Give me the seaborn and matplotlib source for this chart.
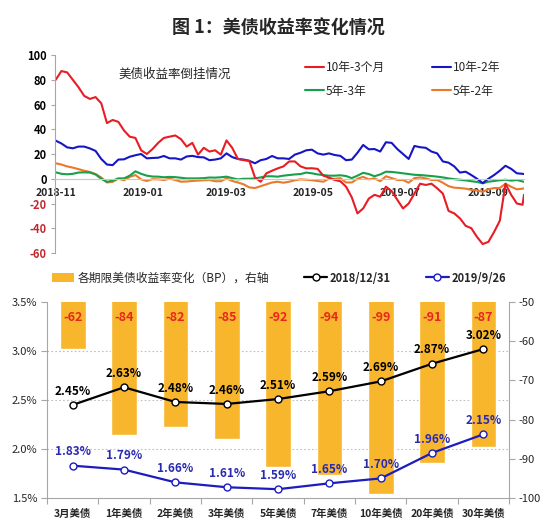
import numpy as np
import pandas as pd
import matplotlib
matplotlib.use("Agg")
import matplotlib.pyplot as plt
import matplotlib.dates as mdates
from matplotlib.ticker import FixedLocator
from matplotlib.lines import Line2D
from matplotlib.patches import Patch
import seaborn as sns

# ---------------- data: top chart (spreads, bp) ----------------
start_date = "2018-11-01"
end_date = "2019-09-26"
series_names = ["10年-3个月", "10年-2年", "5年-3年", "5年-2年"]

spread_10y3m = [80, 87, 86, 80, 74, 67, 64.5, 66, 61, 45,
                47.5, 46, 39, 34, 33, 23, 20, 24, 29, 33,
                34, 35, 32, 26, 29, 19.5, 25, 22, 23, 19.5,
                31, 25, 16, 15, 14.5, 1, -2.4, 4.4, 6.5, 8.4,
                10, 14, 14, 10, 8.4, 8.5, 8, 2.5, 1, -1,
                -2, -6.4, -15, -28, -24, -16, -13, -14.5, -6.4, -10,
                -17, -24, -20, -12, -4, -5, -4, -7.7, -12, -26,
                -28, -32, -38, -40, -47, -52.8, -51, -43, -34, -4,
                -13, -20, -21, -13]
spread_10y2y = [30.8, 28.5, 25.4, 24.6, 26, 26, 24.5, 22.5, 16, 11.5,
                11, 15.5, 15.7, 17.8, 19, 20, 16.5, 16.8, 17, 18.4,
                16.5, 16.5, 15.5, 18, 18.5, 17.5, 17.3, 15, 15.5, 16.5,
                20.5, 17.5, 16, 15.5, 14.5, 12.5, 15, 16, 18.4, 16.5,
                16.5, 16, 19.5, 21, 23, 23.5, 20.5, 19.5, 20.5, 19.2,
                18.5, 15, 15.5, 21, 27.3, 23.8, 24, 22, 29.5, 29,
                24, 20, 16, 26.5, 25.5, 25, 22, 20.5, 14, 13,
                10, 5, 5.7, 3, 0, -3.5, 0, 3, 6.5, 10.5,
                8, 4.4, 4, 3.8]
spread_5y3y = [5.2, 4, 3.6, 4, 5, 5.2, 5, 3.5, 0, -2.5,
               -1.5, 0.3, 0.3, 2.5, 6, 4, 2.5, 1.8, 1.7, 1.2,
               1.5, 1.3, 0.8, 0.3, 0.3, 0.3, 0.5, 1, 0.9, 1.2,
               1.7, 0.5, -0.5, 0, 0, 0.3, 1.1, 2, 2, 1.7,
               2.5, 3, 3.5, 3.8, 5, 4.4, 3.5, 3, 2.5, 2.5,
               2.8, 2.2, 0.5, 2.5, 4.8, 3.8, 2, 3.5, 5.7, 5.5,
               5, 4.4, 3.8, 3.2, 3, 2.6, 2.2, 1.7, 1.1, 0.3,
               -0.3, -0.8, -1.3, -2, -2.6, -3.7, -2.4, -1.8, -1.2, -0.8,
               -1.5, -1, -2.2, -2.4]
spread_5y2y = [12.5, 11.5, 10, 9, 7.8, 6.5, 5.5, 3.8, 1, -3,
               -2.5, 0, -1.2, 1.5, 3, -0.5, -1.8, -0.3, -0.5, -1,
               0, -1, -2.4, -2.2, -1.8, -1.5, -1.2, -1, -2, -2,
               0.3, -1.8, -3, -4.5, -7, -7.5, -6, -4.5, -3, -2.4,
               -3.2, -2.4, -1.2, -0.5, -0.8, -1.2, -1.8, -2.4, 0, 0,
               0.5, -3, -3, 0, 1.5, -0.5, 0.3, -2, 2, 0.5,
               -1, -1, -3.2, 0.5, 1.1, 0.3, -1, -1, -3.2, -6,
               -7.2, -7.5, -8, -9, -9.5, -10.5, -8.5, -7.5, -7.5, -4,
               -6.5, -8.5, -8, -7.8]

# ---------------- data: bottom chart ----------------
categories = ["3月美债", "1年美债", "2年美债", "3年美债", "5年美债",
              "7年美债", "10年美债", "20年美债", "30年美债"]
yield_20181231 = [2.45, 2.63, 2.48, 2.46, 2.51, 2.59, 2.69, 2.87, 3.02]
yield_20190926 = [1.83, 1.79, 1.66, 1.61, 1.59, 1.65, 1.70, 1.96, 2.15]
bp_change = [-62, -84, -82, -85, -92, -94, -99, -91, -87]

# ---------------- style ----------------
sns.set_theme(style="white")
plt.rcParams['font.family'] = ['Noto Sans CJK SC', 'DejaVu Sans']
plt.rcParams['axes.unicode_minus'] = False

c_red, c_blue, c_green, c_orange = "#E81C24", "#1616C4", "#17A04A", "#EA7A2A"
bar_color = "#F8B62D"
gray = "#A6A6A6"
blue_line = "#1C1CC0"
blue_text = "#2A2AB0"

fig = plt.figure(figsize=(5.5, 5.21), dpi=100)
fig.patch.set_facecolor("white")

# ---------------- top chart ----------------
n = len(spread_10y3m)
dates = list(pd.date_range(start_date, periods=n - 1, freq="4D")) + [pd.Timestamp(end_date)]
frames = []
for name, vals in zip(series_names, [spread_10y3m, spread_10y2y, spread_5y3y, spread_5y2y]):
    assert len(vals) == n
    frames.append(pd.DataFrame({"date": dates, "value": vals, "series": name}))
df = pd.concat(frames, ignore_index=True)

ax1 = fig.add_axes([0.1, 0.5144, 0.8527, 0.38])
palette = dict(zip(series_names, [c_red, c_blue, c_green, c_orange]))
sns.lineplot(data=df, x="date", y="value", hue="series", hue_order=series_names[::-1],
             palette=palette, linewidth=1.5, ax=ax1, legend=False)
ax1.set_xlim(pd.Timestamp("2018-10-31 12:00"), pd.Timestamp(end_date))
ax1.set_ylim(-60, 100)
yt = np.arange(-60, 101, 20)
ax1.set_yticks(yt, labels=[f"{t:d}" for t in yt])
for t, lbl in zip(yt, ax1.get_yticklabels()):
    lbl.set_color("#C0282D" if t < 0 else "black")
    lbl.set_fontweight("bold")
ax1.set_xlabel("")
ax1.set_ylabel("")
for s in ["top", "right"]:
    ax1.spines[s].set_visible(False)
ax1.spines["left"].set_color(gray)
ax1.spines["left"].set_linewidth(0.8)
ax1.spines["bottom"].set_position(("data", 0))
ax1.spines["bottom"].set_color("#C8C8C8")
ax1.spines["bottom"].set_linewidth(0.8)
ax1.xaxis.set_major_locator(mdates.MonthLocator(bymonth=[1, 3, 5, 7, 9, 11]))
ax1.xaxis.set_major_formatter(mdates.DateFormatter("%Y-%m"))
ax1.tick_params(axis="x", length=0, pad=7, labelsize=7.5)
ax1.tick_params(axis="y", left=True, length=3, color=gray, width=0.8, pad=3, labelsize=8)
ax1.grid(False)

handles = [Line2D([], [], color=c, lw=1.5) for c in [c_red, c_green, c_blue, c_orange]]
labels = ["10年-3个月", "5年-3年", "10年-2年", "5年-2年"]
ax1.legend(handles, labels, ncol=2, loc="upper left",
           bbox_to_anchor=(305 / 550, 0.883), bbox_transform=fig.transFigure,
           frameon=False, fontsize=8.5, handlelength=1.6, handletextpad=0.15,
           columnspacing=4.0, labelspacing=0.9, borderpad=0, borderaxespad=0)

fig.text(0.317, 0.858, "美债收益率倒挂情况", ha="center", va="center", fontsize=9)
fig.text(0.507, 0.946, "图 1：美债收益率变化情况", ha="center", va="center",
         fontsize=13, fontweight="bold")

# ---------------- bottom chart ----------------
ax = fig.add_axes([0.0855, 0.0441, 0.84, 0.3762])
ax2 = ax.twinx()
sns.barplot(x=categories, y=bp_change, color=bar_color, saturation=1, width=0.5, ax=ax2)
ax2.set_ylim(-100, -50)
rt = np.arange(-100, -49, 10)
ax2.set_yticks(rt, labels=[f"{t:d}" for t in rt])

x_idx = np.arange(len(categories))
sns.lineplot(x=x_idx, y=yield_20181231, color="black", lw=1.6, marker="o", markersize=5,
             markerfacecolor="white", markeredgecolor="black", markeredgewidth=1, ax=ax)
sns.lineplot(x=x_idx, y=yield_20190926, color=blue_line, lw=1.6, marker="o", markersize=5,
             markerfacecolor="white", markeredgecolor=blue_line, markeredgewidth=1, ax=ax)
ax.set_ylim(1.5, 3.5)
lt = np.arange(1.5, 3.51, 0.5)
ax.set_yticks(lt, labels=[f"{t:.1f}%" for t in lt])
ax.set_xlim(-0.5, len(categories) - 0.5)
ax.set_xticks(x_idx, labels=categories)
ax.set_xticks(np.arange(len(categories) + 1) - 0.5, minor=True)
ax.set_xlabel("")
ax.set_ylabel("")
ax2.set_ylabel("")
ax.tick_params(axis="x", which="major", length=0, pad=8, labelsize=7.5)
ax.tick_params(axis="x", which="minor", bottom=True, length=4, color=gray, width=0.8)
ax.tick_params(axis="y", left=True, length=4, color=gray, width=0.8, pad=3, labelsize=8)
ax2.tick_params(axis="y", which="major", right=True, length=4, color=gray, width=0.8,
                pad=3, labelsize=8)
for lbl in ax.get_xticklabels():
    lbl.set_fontweight("bold")

ax.set_zorder(2)
ax2.set_zorder(1)
ax.patch.set_visible(False)
ax.grid(False)

# dotted gridlines at the left-axis ticks, drawn behind the bars
p0, p1 = ax.get_ylim()
r0, r1 = ax2.get_ylim()
grid_pos = [r0 + (t - p0) / (p1 - p0) * (r1 - r0) for t in lt]
ax2.yaxis.set_minor_locator(FixedLocator(grid_pos))
ax2.grid(False, which="major")
ax2.grid(True, which="minor", axis="y", color="#BFBFBF", linestyle=(0, (1.5, 2)), lw=0.8)
ax2.tick_params(axis="y", which="minor", length=0)
ax2.set_axisbelow(True)

for s in ["top", "right"]:
    ax.spines[s].set_visible(False)
for s in ["left", "bottom"]:
    ax.spines[s].set_color(gray)
    ax.spines[s].set_linewidth(0.8)
for s in ["top", "left", "bottom"]:
    ax2.spines[s].set_visible(False)
ax2.spines["right"].set_color(gray)
ax2.spines["right"].set_linewidth(0.8)

for i, v in enumerate(bp_change):
    ax2.annotate(f"{v:d}", xy=(i, r1), xytext=(0, -11.5), textcoords="offset points",
                 ha="center", va="center", color="#E8261F", fontsize=9,
                 fontweight="bold", annotation_clip=False)
for i, v in enumerate(yield_20181231):
    ax.annotate(f"{v:.2f}%", xy=(i, v), xytext=(0, 10), textcoords="offset points",
                ha="center", va="center", color="black", fontsize=8.5, fontweight="bold")
for i, v in enumerate(yield_20190926):
    ax.annotate(f"{v:.2f}%", xy=(i, v), xytext=(0, 10), textcoords="offset points",
                ha="center", va="center", color=blue_text, fontsize=8.5, fontweight="bold")

leg_handles = [Patch(facecolor=bar_color, edgecolor="none"),
               Line2D([], [], color="black", lw=1.6, marker="o", markersize=5,
                      markerfacecolor="white", markeredgecolor="black"),
               Line2D([], [], color=blue_line, lw=1.6, marker="o", markersize=5,
                      markerfacecolor="white", markeredgecolor=blue_line)]
leg_labels = ["各期限美债收益率变化（BP），右轴", "2018/12/31", "2019/9/26"]
leg = fig.legend(leg_handles, leg_labels, loc="center left", bbox_to_anchor=(52 / 550, 0.4664),
                 ncol=3, frameon=False, fontsize=8.5, handlelength=1.9, handletextpad=0.25,
                 columnspacing=3.0, borderpad=0, borderaxespad=0)
for t in leg.get_texts()[1:]:
    t.set_fontweight("bold")
    t.set_fontsize(8)

fig.canvas.draw()
for lbl in ax1.get_xticklabels():
    lbl.set_fontweight("bold")

fig.savefig("out.png", dpi=100, facecolor="white")
